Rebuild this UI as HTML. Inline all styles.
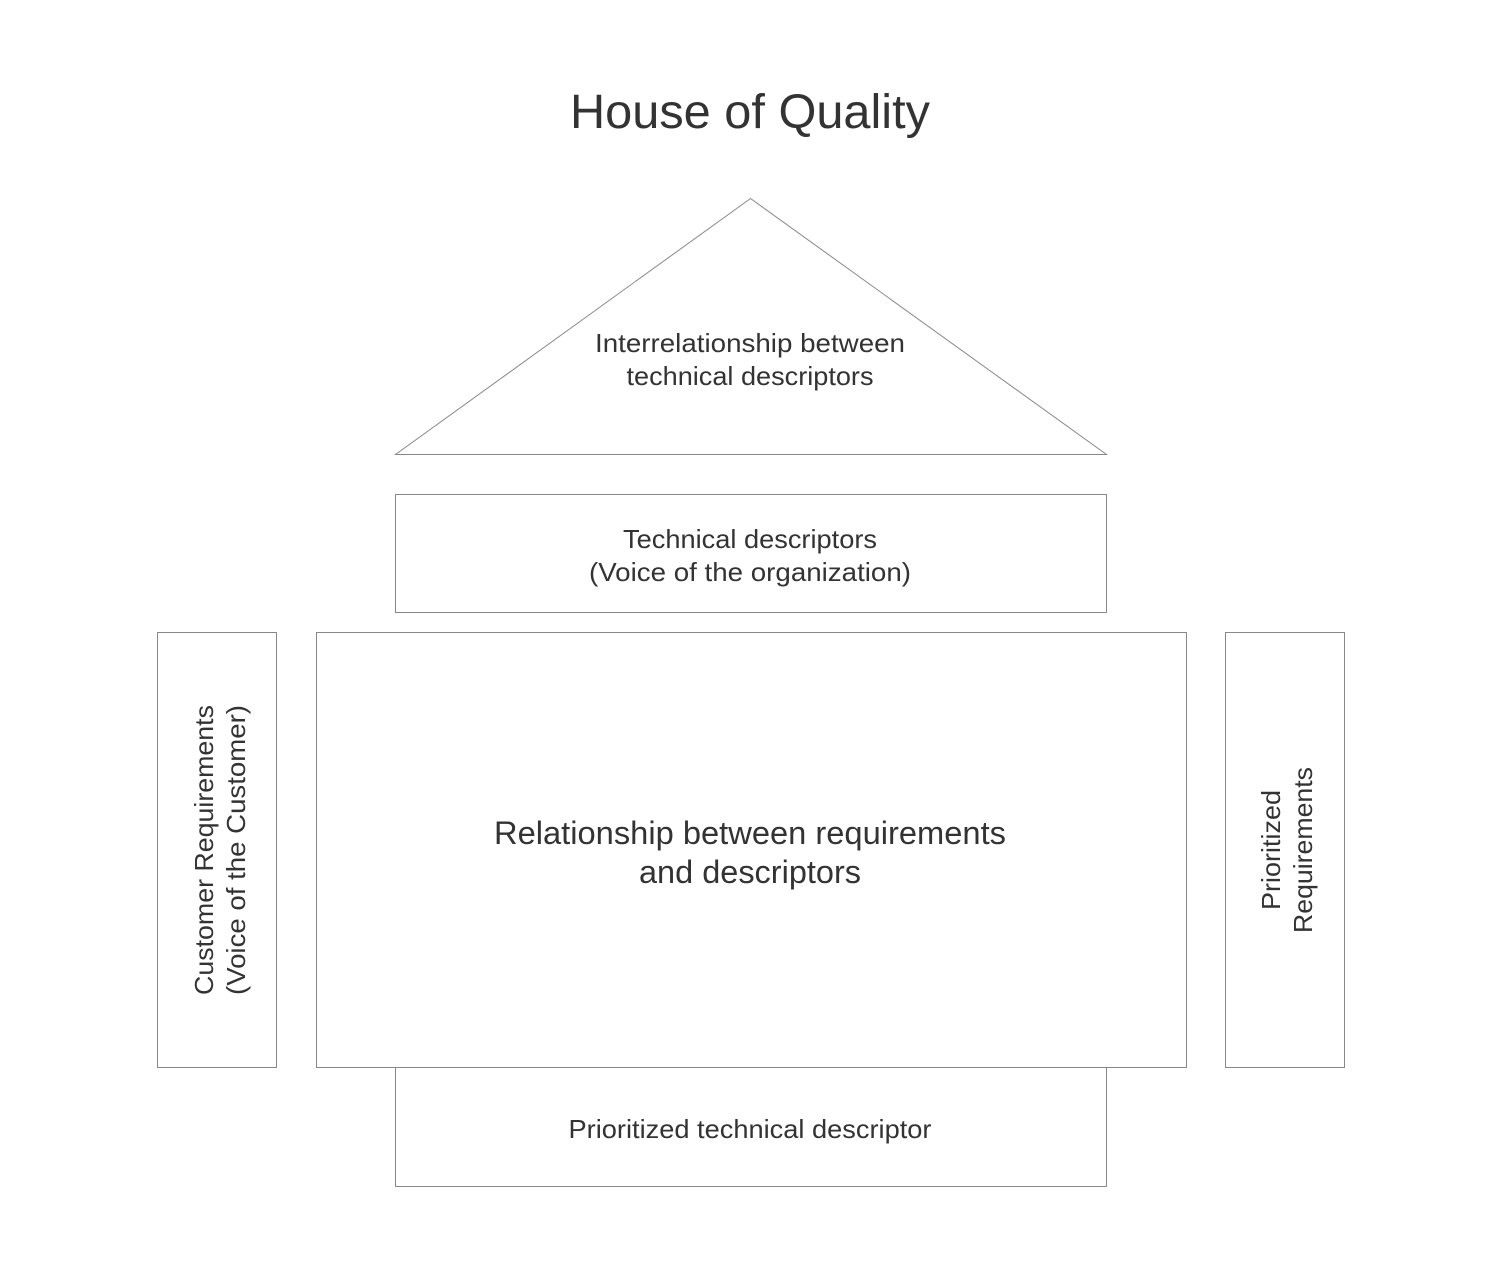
<!DOCTYPE html>
<html>
<head>
<meta charset="utf-8">
<style>
html,body{margin:0;padding:0;background:#fff;}
svg{display:block;}
text{font-family:"Liberation Sans",sans-serif;fill:#333;text-anchor:middle;}
</style>
</head>
<body>
<svg width="1500" height="1265" viewBox="0 0 1500 1265" xmlns="http://www.w3.org/2000/svg">
<g fill="#fff" stroke="#888" stroke-width="1">
<polygon points="750.5,198.5 395.5,454.5 1106.5,454.5"/>
<rect x="395.5" y="494.5" width="711" height="118"/>
<rect x="157.5" y="632.5" width="119" height="435"/>
<rect x="316.5" y="632.5" width="870" height="435"/>
<rect x="1225.5" y="632.5" width="119" height="435"/>
<rect x="395.5" y="1067.5" width="711" height="119"/>
</g>
<text x="750" y="128" font-size="48" textLength="360" lengthAdjust="spacingAndGlyphs">House of Quality</text>
<text x="750" y="352" font-size="26" textLength="310" lengthAdjust="spacingAndGlyphs">Interrelationship between</text>
<text x="750" y="385" font-size="26" textLength="247" lengthAdjust="spacingAndGlyphs">technical descriptors</text>
<text x="750" y="548" font-size="26" textLength="254" lengthAdjust="spacingAndGlyphs">Technical descriptors</text>
<text x="750" y="581" font-size="26" textLength="322" lengthAdjust="spacingAndGlyphs">(Voice of the organization)</text>
<text x="750" y="844" font-size="32" textLength="512" lengthAdjust="spacingAndGlyphs">Relationship between requirements</text>
<text x="750" y="883" font-size="32" textLength="222" lengthAdjust="spacingAndGlyphs">and descriptors</text>
<text x="750" y="1138" font-size="26" textLength="363" lengthAdjust="spacingAndGlyphs">Prioritized technical descriptor</text>
<g transform="translate(217,850) rotate(-90)">
<text x="0" y="-4" font-size="26" textLength="290" lengthAdjust="spacingAndGlyphs">Customer Requirements</text>
<text x="0" y="28" font-size="26" textLength="290" lengthAdjust="spacingAndGlyphs">(Voice of the Customer)</text>
</g>
<g transform="translate(1286,850) rotate(-90)">
<text x="0" y="-6" font-size="26" textLength="120" lengthAdjust="spacingAndGlyphs">Prioritized</text>
<text x="0" y="26" font-size="26" textLength="166" lengthAdjust="spacingAndGlyphs">Requirements</text>
</g>
</svg>
</body>
</html>
